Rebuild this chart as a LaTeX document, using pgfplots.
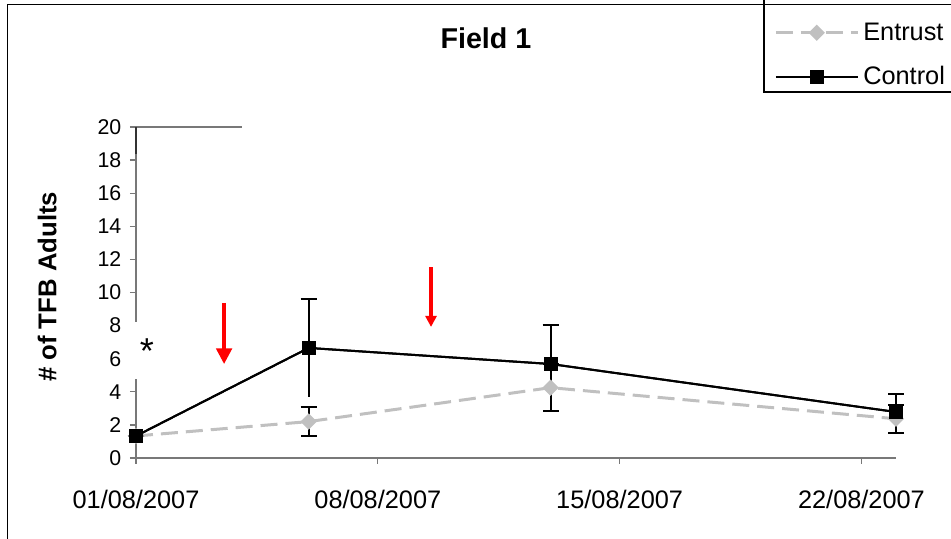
\documentclass[border=0pt]{standalone}
\usepackage{fontspec}
\setmainfont{Liberation Sans}
\usepackage{pgfplots}
\pgfplotsset{compat=1.18}
\usetikzlibrary{arrows.meta}

\definecolor{entrustgray}{RGB}{192,192,192}
\definecolor{axisgray}{RGB}{120,120,120}

\begin{document}
\begin{tikzpicture}
\useasboundingbox (0,0) rectangle (713.25pt,404.25pt);
\clip (0,0) rectangle (713.25pt,404.25pt);

% chart area frame and legend box (1 unit = 1 px)
\begin{scope}[x=0.75pt,y=0.75pt]
  \draw[black, line width=1.3pt] (7.5,-20) -- (7.5,534.5) -- (1000,534.5);
  \draw[black, line width=1pt] (764,560) -- (764,447) -- (1000,447);
\end{scope}

\begin{axis}[
  at={(102pt,60.75pt)}, anchor=south west,
  scale only axis, width=570pt, height=248.25pt,
  xmin=1, xmax=23, ymin=0, ymax=20,
  axis x line*=bottom, axis y line*=left,
  axis line style={axisgray, line width=1pt, -},
  xtick={1,8,15,22},
  xticklabels={01/08/2007,08/08/2007,15/08/2007,22/08/2007},
  ytick={0,2,...,20},
  tick align=outside, major tick length=4.5pt,
  tick style={axisgray, line width=1pt},
  xticklabel style={font=\fontsize{19}{22}\selectfont, yshift=-16pt},
  yticklabel style={font=\fontsize{16}{18}\selectfont, xshift=-3pt},
  /pgf/number format/assume math mode=true,
  title={Field 1},
  title style={font=\bfseries\fontsize{21.5}{24}\selectfont,
    at={(axis description cs:0.4605,1.245)}, anchor=center},
  ylabel={\# of TFB Adults},
  ylabel style={font=\bfseries\fontsize{19.3}{22}\selectfont,
    at={(axis description cs:-0.117,0.517)}, anchor=center},
  clip=false,
  legend style={draw=none, fill=none, inner sep=0pt,
    at={(axis description cs:0.8395,1.315)}, anchor=north west,
    font=\fontsize{19}{22}\selectfont,
    nodes={inner sep=0pt}, column sep=3pt, row sep=18pt},
  legend cell align=left,
  legend image code/.code={
    \draw[mark repeat=2,mark phase=2,#1]
      plot coordinates {(0pt,0pt) (30.75pt,0pt) (61.5pt,0pt)};},
]

% Entrust
\addplot[entrustgray, line width=2.25pt, dash pattern=on 12.75pt off 6pt,
  mark=square*, mark size=3.2pt,
  mark options={solid, rotate=45, fill=entrustgray, draw=entrustgray},
  error bars/.cd, y dir=both, y explicit,
  error bar style={black, line width=1.5pt, solid},
  error mark options={black, line width=1.5pt, mark size=6pt, rotate=90, solid}]
  table[x=day, y=mean, y error=err] {
  day mean err
  1   1.33 0
  6   2.20 0.87
  13  4.25 1.40
  23  2.37 0.83
};
\addlegendentry{Entrust}

% Control (upper bars with caps)
\addplot[black, line width=1.5pt, mark=square*, mark size=4.5pt,
  mark options={fill=black},
  error bars/.cd, y dir=plus, y explicit,
  error bar style={black, line width=1.5pt},
  error mark options={black, line width=1.5pt, mark size=6pt, rotate=90}]
  table[x=day, y=mean, y error=err] {
  day mean err
  1   1.33 0
  6   6.65 2.95
  13  5.68 2.36
  23  2.78 1.07
};
\addlegendentry{Control}

% Control (lower bars, no caps)
\addplot[forget plot, black, line width=1.5pt, mark=none,
  error bars/.cd, y dir=minus, y explicit, error mark=none,
  error bar style={black, line width=1.5pt}]
  table[x=day, y=mean, y error=err] {
  day mean err
  1   1.33 0
  6   6.65 2.95
  13  5.68 2.36
  23  2.78 1.07
};

% spray arrows
\draw[red, line width=2.4pt, -{Triangle[length=11.7pt, width=11.7pt]}]
  (axis cs:3.55,9.37) -- (axis cs:3.55,5.68);
\draw[red, line width=2.3pt, -{Triangle[length=8.2pt, width=8.2pt]}]
  (axis cs:9.54,11.54) -- (axis cs:9.54,7.92);
\end{axis}

% plot-area leftovers: top edge piece, gap in the y axis and asterisk
\begin{scope}[x=0.75pt,y=0.75pt]
  \draw[axisgray, line width=1.2pt] (136,412) -- (242,412);
  \draw[black!80, line width=1.2pt] (136,412) -- (136,385);
  \fill[white] (128,160) rectangle (165,217);
  \node[anchor=base, inner sep=0pt, font=\fontsize{27}{30}\selectfont]
    at (147,175) {*};
\end{scope}
\end{tikzpicture}
\end{document}
